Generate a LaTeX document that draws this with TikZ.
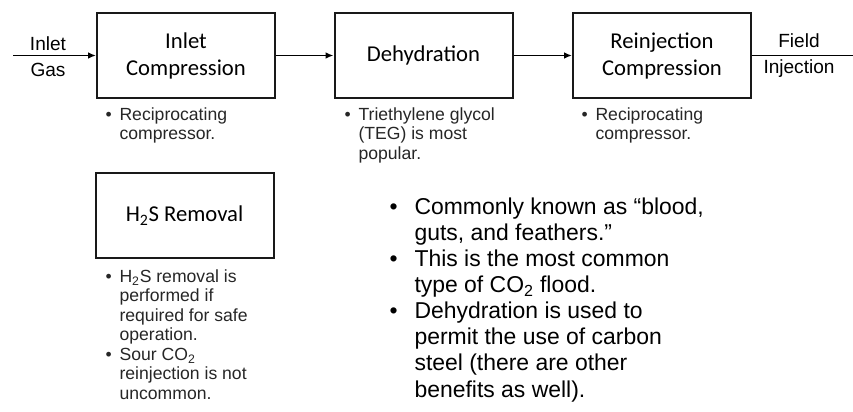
\documentclass[tikz,border=0pt]{standalone}
\usepackage{fontspec}
\setmainfont{Liberation Sans}
\newfontfamily\boxfont{Carlito}
\usetikzlibrary{arrows.meta}
\newcommand{\bl}{\makebox[10.5pt][l]{\textbullet}}
\newcommand{\ind}{\hspace*{10.5pt}}
\newcommand{\Bbl}{\makebox[18.75pt][l]{\textbullet}}
\newcommand{\Bind}{\hspace*{18.75pt}}

\begin{document}
\begin{tikzpicture}[x=0.75pt,y=-0.75pt,thick,
  unit/.style={draw=black!90, line width=1.5pt, minimum width=133.5pt, minimum height=63.75pt, inner sep=0pt, align=center, font=\boxfont\fontsize{17}{20.25}\selectfont},
  flow/.style={line width=1.3pt, -{Latex[length=6pt,width=5pt]}},
  note/.style={anchor=north west, inner sep=0pt, align=left, text=black!85, font=\fontsize{13.2}{14.6}\selectfont},
  bignote/.style={anchor=north west, inner sep=0pt, align=left, font=\fontsize{17.2}{19.6}\selectfont},
  stream/.style={inner sep=0pt, align=center, font=\fontsize{14.3}{19.5}\selectfont}]
\useasboundingbox (0,0) rectangle (853,411);

\node[unit] (inc) at (186,55.5) {Inlet\\Compression};
\node[unit] (dehy) at (423.5,55.5) {Dehydration};
\node[unit] (reinj) at (662,55.5) {Reinjection\\Compression};
\node[unit] (hts) at (184.5,215.5) {H\textsubscript{2}S Removal};

\coordinate (gasin) at (13,55.5);
\coordinate (fieldout) at (853,55.5);
\node[stream] (gaslbl) at (48,57) {Inlet\\Gas};
\node[stream] (fieldlbl) at (799,56) {Field\\Injection};

\draw[flow] (gasin) -- (inc);
\draw[flow] (inc) -- (dehy);
\draw[flow] (dehy) -- (reinj);
\draw[line width=1.3pt] (reinj) -- (fieldout);

\node[note] (incnote) at (105,107) {\bl Reciprocating\\\ind compressor.};
\node[note] (dehynote) at (344,107) {\bl Triethylene glycol\\\ind (TEG) is most\\\ind popular.};
\node[note] (reinjnote) at (581,107) {\bl Reciprocating\\\ind compressor.};
\node[note] (htsnote) at (105,269) {\bl H\textsubscript{2}S removal is\\\ind performed if\\\ind required for safe\\\ind operation.\\\bl Sour CO\textsubscript{2}\\\ind reinjection is not\\\ind uncommon.};

\node[bignote] (summary) at (389,197) {\Bbl Commonly known as “blood,\\\Bind guts, and feathers.”\\\Bbl This is the most common\\\Bind type of CO\textsubscript{2} flood.\\\Bbl Dehydration is used to\\\Bind permit the use of carbon\\\Bind steel (there are other\\\Bind benefits as well).};
\end{tikzpicture}
\end{document}
